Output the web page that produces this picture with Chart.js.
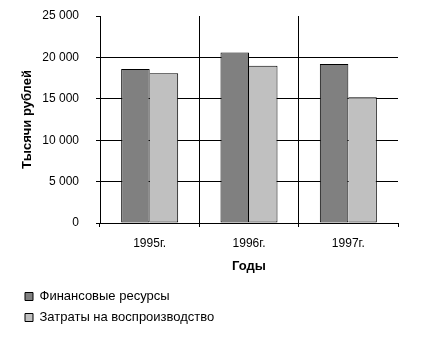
<!DOCTYPE html>
<html>
<head>
<meta charset="utf-8">
<script src="https://cdn.jsdelivr.net/npm/chart.js@4/dist/chart.umd.min.js"></script>
<style>
html,body{margin:0;padding:0;background:#fff;}
#wrap{width:428px;height:357px;}
</style>
</head>
<body>
<div id="wrap"><canvas id="c" width="428" height="357"></canvas></div>
<script>
const categories = ['1995г.', '1996г.', '1997г.'];
const seriesNames = ['Финансовые ресурсы', 'Затраты на воспроизводство'];
const financialResources = [18600, 20600, 19200];
const reproductionCosts = [18100, 19000, 15200];
const yTickMin = 0;
const yTickMax = 25000;
const yTickStep = 5000;
const yAxisTitle = 'Тысячи рублей';
const xAxisTitle = 'Годы';

Chart.defaults.font.family = "'Liberation Sans', Arial, sans-serif";
Chart.defaults.font.size = 12;
Chart.defaults.color = '#000';

function fmt(v) {
  return String(v).replace(/\B(?=(\d{3})+(?!\d))/g, ' ');
}

const legendMover = {
  id: 'legendMover',
  afterLayout(chart) {
    const l = chart.legend;
    if (!l) return;
    const w = l.width;
    l.left = 17;
    l.right = 17 + w;
  }
};

new Chart(document.getElementById('c'), {
  type: 'bar',
  data: {
    labels: categories,
    datasets: [
      {
        label: seriesNames[0],
        data: financialResources,
        backgroundColor: '#808080',
        borderColor: '#000',
        borderWidth: 1,
        borderSkipped: false
      },
      {
        label: seriesNames[1],
        data: reproductionCosts,
        backgroundColor: '#c0c0c0',
        borderColor: '#000',
        borderWidth: { top: 1, right: 1, bottom: 1, left: 0 },
        borderSkipped: false
      }
    ]
  },
  options: {
    responsive: false,
    animation: false,
    devicePixelRatio: 1,
    categoryPercentage: 0.574,
    barPercentage: 1.0,
    layout: { padding: { left: 0, top: 16, right: 30, bottom: 23 } },
    plugins: {
      tooltip: { enabled: false },
      legend: {
        display: true,
        position: 'bottom',
        align: 'start',
        fullSize: false,
        labels: {
          boxWidth: 8,
          boxHeight: 8,
          padding: 8,
          color: '#000',
          font: { size: 13 },
          generateLabels: chart => chart.data.datasets.map((ds, i) => ({
            text: ds.label,
            fillStyle: ds.backgroundColor,
            strokeStyle: '#000',
            lineWidth: 1,
            fontColor: '#000',
            hidden: false,
            datasetIndex: i
          }))
        }
      }
    },
    scales: {
      x: {
        grid: {
          offset: true,
          color: c => (c.index === 1 || c.index === 2) ? '#000' : 'rgba(0,0,0,0)',
          tickColor: '#000',
          tickLength: 4,
          lineWidth: 1
        },
        border: { display: true, color: '#000', width: 1 },
        ticks: { padding: 9, color: '#000', font: { size: 12 } },
        title: {
          display: true,
          text: xAxisTitle,
          color: '#000',
          font: { size: 13, weight: 'bold' },
          padding: { top: 0, bottom: 8 }
        },
        afterFit: s => { s.height = 59; s.paddingLeft = 0; s.paddingRight = 0; }
      },
      y: {
        min: yTickMin,
        max: yTickMax,
        grid: {
          color: c => (c.tick && c.tick.value > yTickMin && c.tick.value < yTickMax) ? '#000' : 'rgba(0,0,0,0)',
          tickColor: '#000',
          tickLength: 4,
          lineWidth: 1
        },
        border: { display: true, color: '#000', width: 1 },
        ticks: {
          stepSize: yTickStep,
          padding: 17,
          color: '#000',
          font: { size: 12 },
          callback: v => fmt(v)
        },
        title: {
          display: true,
          text: yAxisTitle,
          color: '#000',
          font: { size: 13, weight: 'bold' },
          padding: { top: 20, bottom: 0 }
        },
        afterFit: s => { s.width = 100; s.paddingTop = 0; s.paddingBottom = 0; }
      }
    }
  },
  plugins: [legendMover]
});
</script>
</body>
</html>
